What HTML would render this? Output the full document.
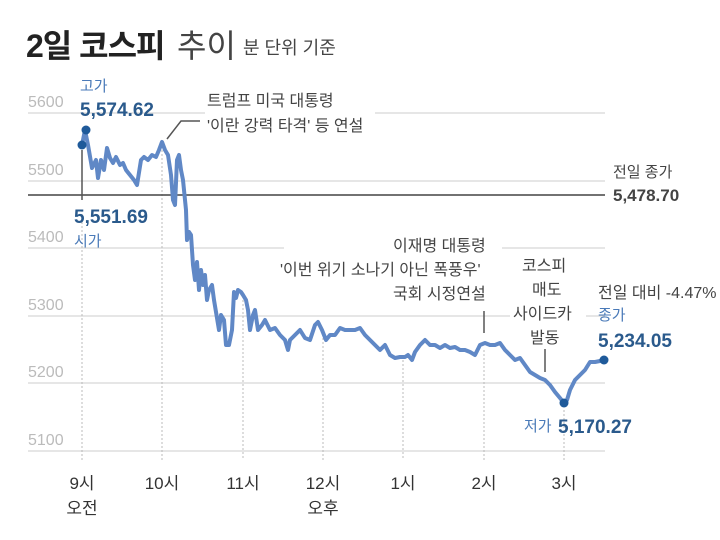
<!DOCTYPE html>
<html><head><meta charset="utf-8"><style>
body{margin:0;background:#fff;width:720px;height:535px;overflow:hidden;font-family:"Liberation Sans","Noto Sans CJK KR",sans-serif}
</style></head><body>
<svg width="720" height="535" xmlns="http://www.w3.org/2000/svg" font-family="'Liberation Sans','Noto Sans CJK KR',sans-serif">
<text x="26" y="57" font-size="32" font-weight="bold" fill="#222" letter-spacing="-1">2일 코스피</text>
<text x="177" y="57" font-size="32" fill="#444">추이</text>
<text x="243" y="54" font-size="18" fill="#444">분 단위 기준</text>
<g stroke="#ccc" stroke-width="1">
<line x1="28" y1="113" x2="605" y2="113"/><line x1="28" y1="181" x2="605" y2="181"/>
<line x1="28" y1="248" x2="605" y2="248"/><line x1="28" y1="316" x2="605" y2="316"/>
<line x1="28" y1="383" x2="605" y2="383"/><line x1="28" y1="451" x2="605" y2="451"/>
</g>
<g stroke="#bbb" stroke-width="1" stroke-dasharray="2,2">
<line x1="82" y1="210" x2="82" y2="460"/><line x1="162" y1="150" x2="162" y2="460"/>
<line x1="243" y1="300" x2="243" y2="460"/><line x1="323" y1="330" x2="323" y2="460"/>
<line x1="403" y1="360" x2="403" y2="460"/><line x1="484" y1="350" x2="484" y2="460"/>
<line x1="564" y1="410" x2="564" y2="460"/>
</g>
<g font-size="16" fill="#bbb">
<rect x="27" y="92" width="40" height="19" fill="#fff"/><text x="28" y="107">5600</text>
<rect x="27" y="160" width="40" height="19" fill="#fff"/><text x="28" y="175">5500</text>
<rect x="27" y="227" width="40" height="19" fill="#fff"/><text x="28" y="242">5400</text>
<rect x="27" y="295" width="40" height="19" fill="#fff"/><text x="28" y="310">5300</text>
<rect x="27" y="362" width="40" height="19" fill="#fff"/><text x="28" y="377">5200</text>
<rect x="27" y="430" width="40" height="19" fill="#fff"/><text x="28" y="445">5100</text>
</g>
<line x1="28" y1="195" x2="605" y2="195" stroke="#444" stroke-width="1.5"/>
<text x="613" y="177" font-size="15" fill="#444">전일 종가</text>
<text x="613" y="201" font-size="17" font-weight="bold" fill="#444">5,478.70</text>
<polyline fill="none" stroke="#6088c6" stroke-width="4" stroke-linejoin="round" points="82,145 85,130 88,145 92,168 96,160 98,178 101,160 104,170 107,148 110,158 113,163 116,157 120,165 123,163 126,170 130,175 134,180 137,185 141,160 144,157 148,160 152,155 156,157 159,150 162,142 165,150 168,155 171,175 173,200 175,205 177,160 179,155 181,170 183,180 186,210 187,240 189,232 191,235 193,265 195,280 197,262 199,290 201,270 203,285 205,275 207,300 209,290 212,285 214,300 216,312 219,330 221,315 224,320 226,345 229,345 232,330 234,292 236,298 238,290 241,292 243,295 246,300 248,310 250,330 253,315 255,310 258,330 262,325 265,320 270,330 275,328 280,335 285,340 288,350 290,340 295,335 300,330 305,338 310,340 315,325 318,322 322,330 326,340 330,335 335,335 340,328 345,330 350,330 355,330 360,328 365,335 370,340 375,345 380,350 385,345 390,355 395,358 400,357 405,357 408,355 412,360 415,352 420,345 425,340 430,345 435,345 440,348 445,345 450,348 455,347 460,350 465,350 470,352 475,355 480,345 485,343 490,345 495,345 500,343 505,350 510,355 515,360 520,358 525,365 530,372 535,375 540,378 545,380 550,385 555,392 560,398 564,403 567,400 570,390 575,380 580,375 585,370 590,362 595,362 605,360"/>
<circle cx="82" cy="145" r="4.5" fill="#1f5a9a"/><circle cx="86" cy="130" r="4.5" fill="#1f5a9a"/>
<circle cx="564" cy="403" r="4.5" fill="#1f5a9a"/><circle cx="604" cy="360" r="4.5" fill="#1f5a9a"/>
<line x1="82" y1="150" x2="82" y2="200" stroke="#555" stroke-width="1.5"/>
<text x="80" y="91" font-size="15" fill="#4a7ab8">고가</text>
<text x="80" y="116" font-size="19" font-weight="bold" fill="#2a5a8c">5,574.62</text>
<text x="74" y="223" font-size="19" font-weight="bold" fill="#2a5a8c">5,551.69</text>
<text x="74" y="246" font-size="15" fill="#4a7ab8">시가</text>
<polyline fill="none" stroke="#555" stroke-width="1.5" points="167,139 181,121 200,121"/>
<g font-size="16" fill="#444">
<rect x="205" y="86" width="170" height="52" fill="#fff"/>
<text x="207" y="106">트럼프 미국 대통령</text>
<text x="207" y="131">'이란 강력 타격' 등 연설</text>
<rect x="284" y="233" width="218" height="72" fill="#fff"/>
<text x="393" y="251">이재명 대통령</text>
<text x="280" y="275">'이번 위기 소나기 아닌 폭풍우'</text>
<text x="393" y="299">국회 시정연설</text>
<rect x="510" y="250" width="76" height="95" fill="#fff"/>
<text x="522" y="271">코스피</text>
<text x="532" y="295">매도</text>
<text x="513" y="319">사이드카</text>
<text x="530" y="343">발동</text>
<text x="598" y="298">전일 대비 -4.47%</text>
</g>
<line x1="484" y1="311" x2="484" y2="333" stroke="#555" stroke-width="1.5"/>
<line x1="545" y1="349" x2="545" y2="372" stroke="#555" stroke-width="1.5"/>
<text x="598" y="320" font-size="15" fill="#4a7ab8">종가</text>
<text x="598" y="347" font-size="19" font-weight="bold" fill="#2a5a8c">5,234.05</text>
<text x="524" y="431" font-size="15" fill="#4a7ab8">저가</text>
<text x="558" y="433" font-size="19" font-weight="bold" fill="#2a5a8c">5,170.27</text>
<g font-size="17" fill="#333" text-anchor="middle">
<text x="82" y="489">9시</text><text x="82" y="514">오전</text>
<text x="162" y="489">10시</text><text x="243" y="489">11시</text>
<text x="323" y="489">12시</text><text x="323" y="514">오후</text>
<text x="403" y="489">1시</text><text x="484" y="489">2시</text><text x="564" y="489">3시</text>
</g>
</svg>
</body></html>
